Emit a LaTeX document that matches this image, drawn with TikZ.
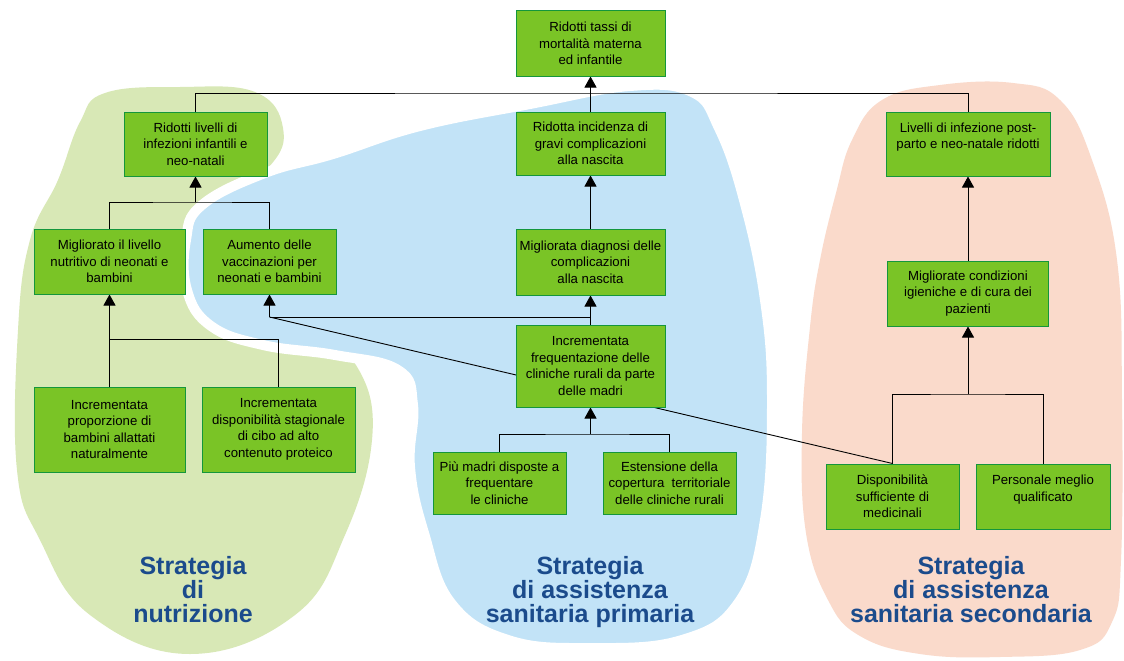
\documentclass[tikz,border=0pt]{standalone}
\usepackage{fontspec}
\setmainfont{Liberation Sans}
\usepackage{pgf, tikz}
\usepackage{xcolor}
\usetikzlibrary{arrows.meta}
\definecolor{boxfill}{RGB}{122,196,38}
\definecolor{boxline}{RGB}{20,150,60}
\definecolor{nutri}{RGB}{216,232,182}
\definecolor{prim}{RGB}{194,227,247}
\definecolor{second}{RGB}{250,218,203}
\definecolor{stratblue}{RGB}{27,75,140}
\pgfdeclarelayer{back}
\pgfdeclarelayer{mid}
\pgfsetlayers{back,mid,main}

\begin{document}
\begin{tikzpicture}[x=1pt,y=-1pt,>={Triangle[length=11pt,width=12pt]},
goal/.style={draw=boxline,fill=boxfill,line width=1pt,inner sep=1pt,align=center,font=\fontsize{13.2}{16.5}\selectfont},
strat/.style={align=center,inner sep=0pt,anchor=north,text=stratblue,font=\fontsize{25}{24}\selectfont\bfseries}]
\useasboundingbox (0,0) rectangle (1124,661);

\node[goal,minimum width=149,minimum height=65](1) at(590.5,43.5){Ridotti tassi di\\mortalità materna\\ed infantile};
\node[goal,minimum width=149,minimum height=63](2) at(590.5,143.5){Ridotta incidenza di\\gravi complicazioni\\alla nascita};
\node[goal,minimum width=149,minimum height=66](3) at(590.5,262){Migliorata diagnosi delle\\complicazioni\\alla nascita};
\node[goal,minimum width=149,minimum height=82](4) at(590.5,366){Incrementata\\frequentazione delle\\cliniche rurali da parte\\delle madri};
\node[goal,minimum width=133,minimum height=62](5) at(499.5,483){Più madri disposte a\\frequentare\\le cliniche};
\node[goal,minimum width=133,minimum height=62](6) at(669.5,483){Estensione della\\copertura\ \ territoriale\\delle cliniche rurali};
\node[goal,minimum width=143,minimum height=64](7) at(195.5,144){Ridotti livelli di\\infezioni infantili e\\neo-natali};
\node[goal,minimum width=151,minimum height=65](8) at(109.5,261.5){Migliorato il livello\\nutritivo di neonati e\\bambini};
\node[goal,minimum width=133,minimum height=65](9) at(269.5,261.5){Aumento delle\\vaccinazioni per\\neonati e bambini};
\node[goal,minimum width=151,minimum height=85](10) at(109.5,429.5){Incrementata\\proporzione di\\bambini allattati\\naturalmente};
\node[goal,minimum width=153,minimum height=85](11) at(278.5,429.5){Incrementata\\disponibilità stagionale\\di cibo ad alto\\contenuto proteico};
\node[goal,minimum width=164,minimum height=64](12) at(968,144){Livelli di infezione post-\\parto e neo-natale ridotti\\\mbox{}};
\node[goal,minimum width=161,minimum height=65](13) at(968,293.5){Migliorate condizioni\\igieniche e di cura dei\\pazienti};
\node[goal,minimum width=133,minimum height=65](14) at(892.5,496.5){Disponibilità\\sufficiente di\\medicinali};
\node[goal,minimum width=134,minimum height=65](15) at(1043,496.5){Personale meglio\\qualificato\\\mbox{}};

\node[strat](16) at(193,556){Strategia\\di\\nutrizione};
\node[strat](17) at(590,556){Strategia\\di assistenza\\sanitaria primaria};
\node[strat](18) at(971,556){Strategia\\di assistenza\\sanitaria secondaria};

\begin{pgfonlayer}{back}
\fill[white] (0,0) rectangle (1124,661);
\fill[nutri] plot[smooth cycle,tension=0.7] coordinates{(105,93) (180,87) (255,92) (283,128) (268,168) (205,215) (188,300) (230,335) (320,345) (360,372) (372,440) (345,535) (295,615) (190,654) (90,615) (40,540) (17,470) (18,330) (30,240) (58,180) (80,122)};
\filldraw[fill=prim,draw=white,line width=10pt] plot[smooth cycle,tension=0.7] coordinates{(186,240) (202,205) (265,173) (333,154) (420,126) (530,104) (630,86) (692,92) (719,128) (744,200) (765,300) (772,400) (765,520) (739,602) (682,640) (590,648) (508,640) (451,603) (424,533) (410,467) (413,405) (398,370) (335,355) (263,345) (211,326) (187,290)};
\fill[second] plot[smooth cycle,tension=0.7] coordinates{(1013,83) (940,85) (882,100) (852,140) (836,193) (820,260) (810,327) (802,433) (806,533) (828,600) (860,636) (920,654) (1000,657) (1080,650) (1112,622) (1121,560) (1122,400) (1117,260) (1092,160) (1060,100)};
\end{pgfonlayer}

\begin{pgfonlayer}{mid}
\coordinate(a) at(590.5,93);
\coordinate(b) at(195.5,202);
\coordinate(c) at(109.5,339);
\coordinate(d) at(269.5,317);
\coordinate(e) at(590.5,434);
\coordinate(f) at(968,394);
\draw [line width=0.9pt](7.north)|-(a)-|(12.north);
\draw [->,line width=0.9pt](2)--(1);
\draw [->,line width=0.9pt](3)--(2);
\draw [->,line width=0.9pt](4)--(3);
\draw [line width=0.9pt](4.north)|-(d);
\draw [->,line width=0.9pt](d)--(9);
\draw [line width=0.9pt](14.north)--(d);
\draw [line width=0.9pt](5.north)|-(e)-|(6.north);
\draw [->,line width=0.9pt](e)--(4);
\draw [line width=0.9pt](8.north)|-(b)-|(9.north);
\draw [->,line width=0.9pt](b)--(7);
\draw [line width=0.9pt](10.north)|-(c)-|(11.north);
\draw [->,line width=0.9pt](c)--(8);
\draw [line width=0.9pt](14.north)|-(f)-|(15.north);
\draw [->,line width=0.9pt](f)--(13);
\draw [->,line width=0.9pt](13)--(12);
\end{pgfonlayer}
\end{tikzpicture}
\end{document}
